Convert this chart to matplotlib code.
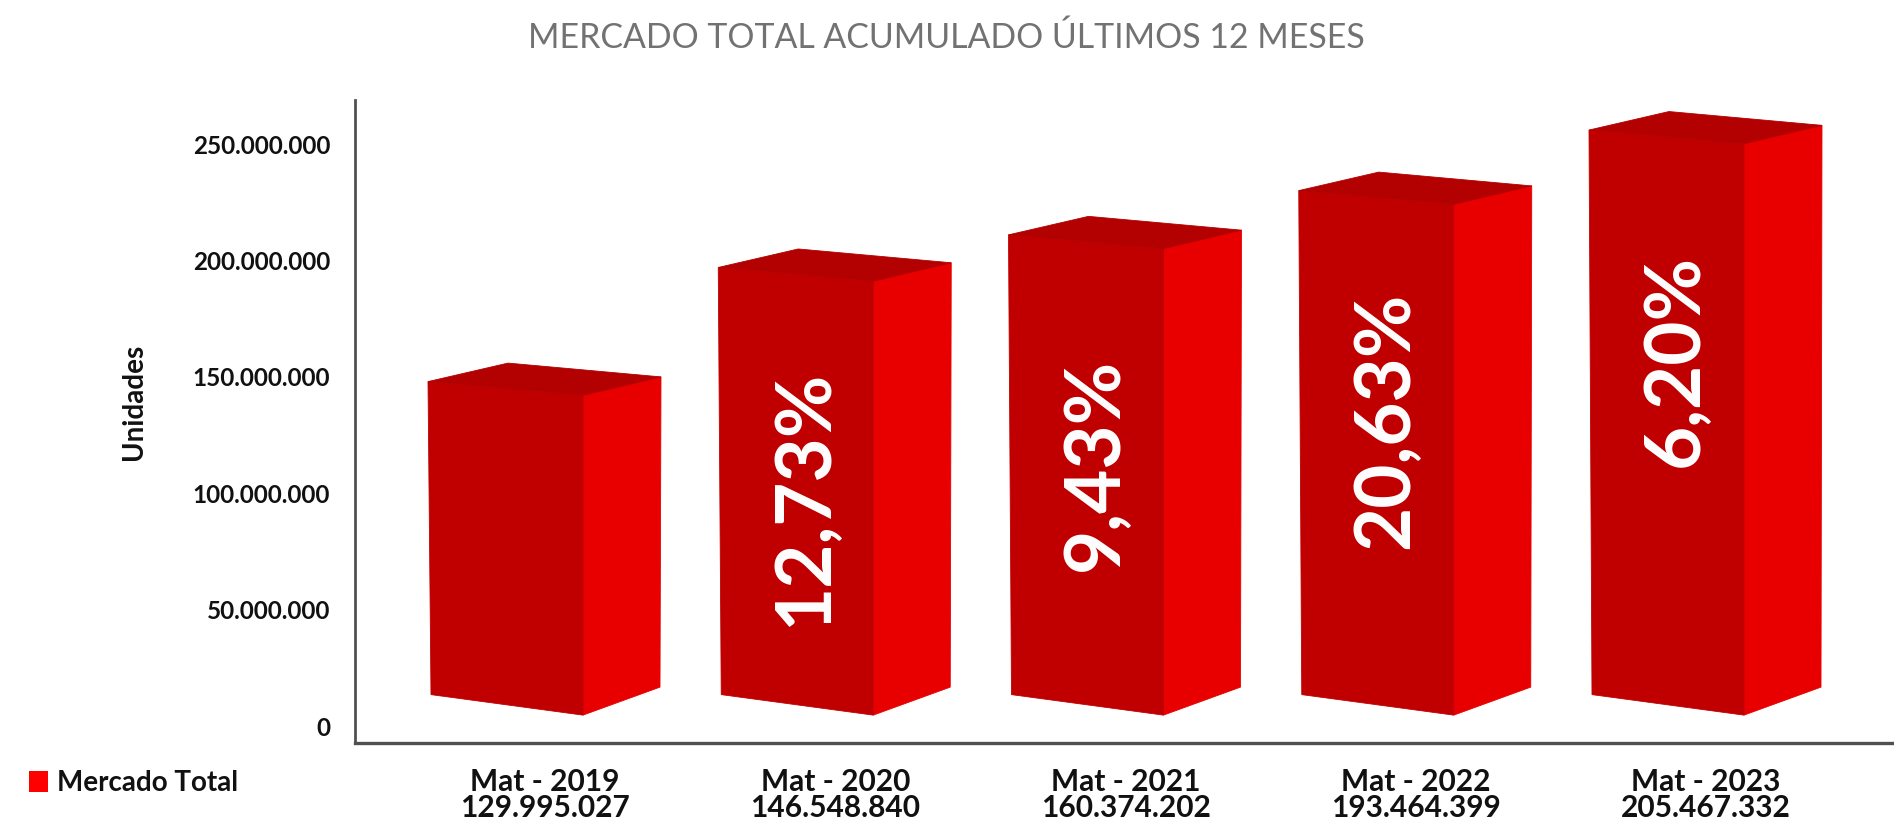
import matplotlib
matplotlib.use("Agg")
import matplotlib.pyplot as plt
from matplotlib.patches import Polygon, Patch
from matplotlib.ticker import FuncFormatter

# ---------------- data ----------------
categories = ["Mat - 2019", "Mat - 2020", "Mat - 2021", "Mat - 2022", "Mat - 2023"]
values = [129995027, 146548840, 160374202, 193464399, 205467332]
# bar tops as drawn on the chart's own value axis
bar_tops = [148_000_000, 197_000_000, 211_000_000, 230_000_000, 256_000_000]
yticks = [0, 50_000_000, 100_000_000, 150_000_000, 200_000_000, 250_000_000]
title = "MERCADO TOTAL ACUMULADO ÚLTIMOS 12 MESES"
series_name = "Mercado Total"
ylabel = "Unidades"

# ---------------- style ----------------
FONT = ["Lato", "DejaVu Sans"]
plt.rcParams["font.family"] = FONT
FRONT = "#c00000"
SIDE = "#e80000"
TOP = "#b30000"
AXIS = "#505050"
TXT = "#111111"

W, H = 1894, 824
fig = plt.figure(figsize=(W / 100, H / 100), dpi=100)
ax_left_px, ax_bottom_px, ax_top_px = 355, 743.4, 100
ax = fig.add_axes([ax_left_px / W, (H - ax_bottom_px) / H,
                   1 - ax_left_px / W, (ax_bottom_px - ax_top_px) / H])

# scales (pixels per data unit) -> used only to convert 3D-effect offsets
SX = 290.25          # px per category step
SY = 2.3292e-6       # px per unit on value axis
first_center_px = 545
ax.set_xlim((ax_left_px - first_center_px) / SX, (W - first_center_px) / SX)
ax.set_ylim(-7.34e6, 268.9e6)

def dx(p):
    return p / SX

def dy(p):
    return p / SY

BASE = 13.6e6  # floor level of the pseudo-3D boxes

for i, top in enumerate(bar_tops):
    x0 = i + dx(-117)
    TL = (x0, top)
    TR = (x0 + dx(155), top - dy(13.8))
    BR = (x0 + dx(155), BASE - dy(20.5))
    BL = (x0 + dx(3), BASE)
    TRb = (TR[0] + dx(78), TR[1] + dy(18.5))
    BRb = (BR[0] + dx(77), BR[1] + dy(28))
    TLb = (TL[0] + dx(80), TL[1] + dy(18.5))
    ax.add_patch(Polygon([TR, TRb, BRb, BR], closed=True, facecolor=SIDE,
                         edgecolor=SIDE, linewidth=0.6))
    ax.add_patch(Polygon([TL, TR, BR, BL], closed=True, facecolor=FRONT,
                         edgecolor=FRONT, linewidth=0.6))
    ax.add_patch(Polygon([TL, TLb, TRb, TR], closed=True, facecolor=TOP,
                         edgecolor=TOP, linewidth=0.6))
    if i > 0:
        pct = (values[i] / values[i - 1] - 1) * 100
        label = f"{pct:.2f}".replace(".", ",") + "%"
        ax.text(i + dx(-30), top - dy(230), label, rotation=90,
                ha="center", va="center", color="white", fontsize=55,
                fontweight="bold")

# axes styling
for s in ["top", "right"]:
    ax.spines[s].set_visible(False)
ax.spines["left"].set_color(AXIS)
ax.spines["left"].set_linewidth(2.0)
ax.spines["bottom"].set_color(AXIS)
ax.spines["bottom"].set_linewidth(2.4)

ax.set_yticks(yticks)
ax.yaxis.set_major_formatter(FuncFormatter(
    lambda v, _: f"{int(round(v)):,}".replace(",", ".")))
ax.tick_params(axis="y", length=0, pad=18, labelsize=17.5, labelcolor=TXT)
for t in ax.get_yticklabels():
    t.set_fontweight("bold")
ax.set_xticks([])

# category labels (two lines)
for i, (cat, v) in enumerate(zip(categories, values)):
    ax.annotate(cat, xy=(i, 0), xycoords=("data", "axes fraction"),
                xytext=(0, -(791 - ax_bottom_px) * 0.72), textcoords="offset points",
                ha="center", va="baseline", fontsize=21.5, fontweight="bold",
                color=TXT, annotation_clip=False)
    ax.annotate(f"{v:,}".replace(",", "."), xy=(i, 0),
                xycoords=("data", "axes fraction"),
                xytext=(0, -(817 - ax_bottom_px) * 0.72), textcoords="offset points",
                ha="center", va="baseline", fontsize=21.5, fontweight="bold",
                color=TXT, annotation_clip=False)

# y label
fig.text(134 / W, 1 - 402 / H, ylabel, rotation=90, ha="center", va="center",
         fontsize=20, fontweight="bold", color=TXT)

# title
fig.text(946 / W, 1 - 48.3 / H, title, ha="center", va="baseline",
         fontsize=24.4, fontweight="normal", color="#727272")

# legend
fs_leg = 20
em = fs_leg / 0.72
leg = fig.legend(handles=[Patch(facecolor="#ff0000", edgecolor="none",
                                label=series_name)],
                 loc="center left", bbox_to_anchor=(29 / W, 1 - 783 / H),
                 frameon=False, borderaxespad=0, borderpad=0,
                 handlelength=19 / em, handleheight=22 / em,
                 handletextpad=9 / em, prop={"family": FONT, "weight": "bold",
                                              "size": fs_leg})
for t in leg.get_texts():
    t.set_color(TXT)

fig.savefig("out.png", dpi=100, facecolor="white")
